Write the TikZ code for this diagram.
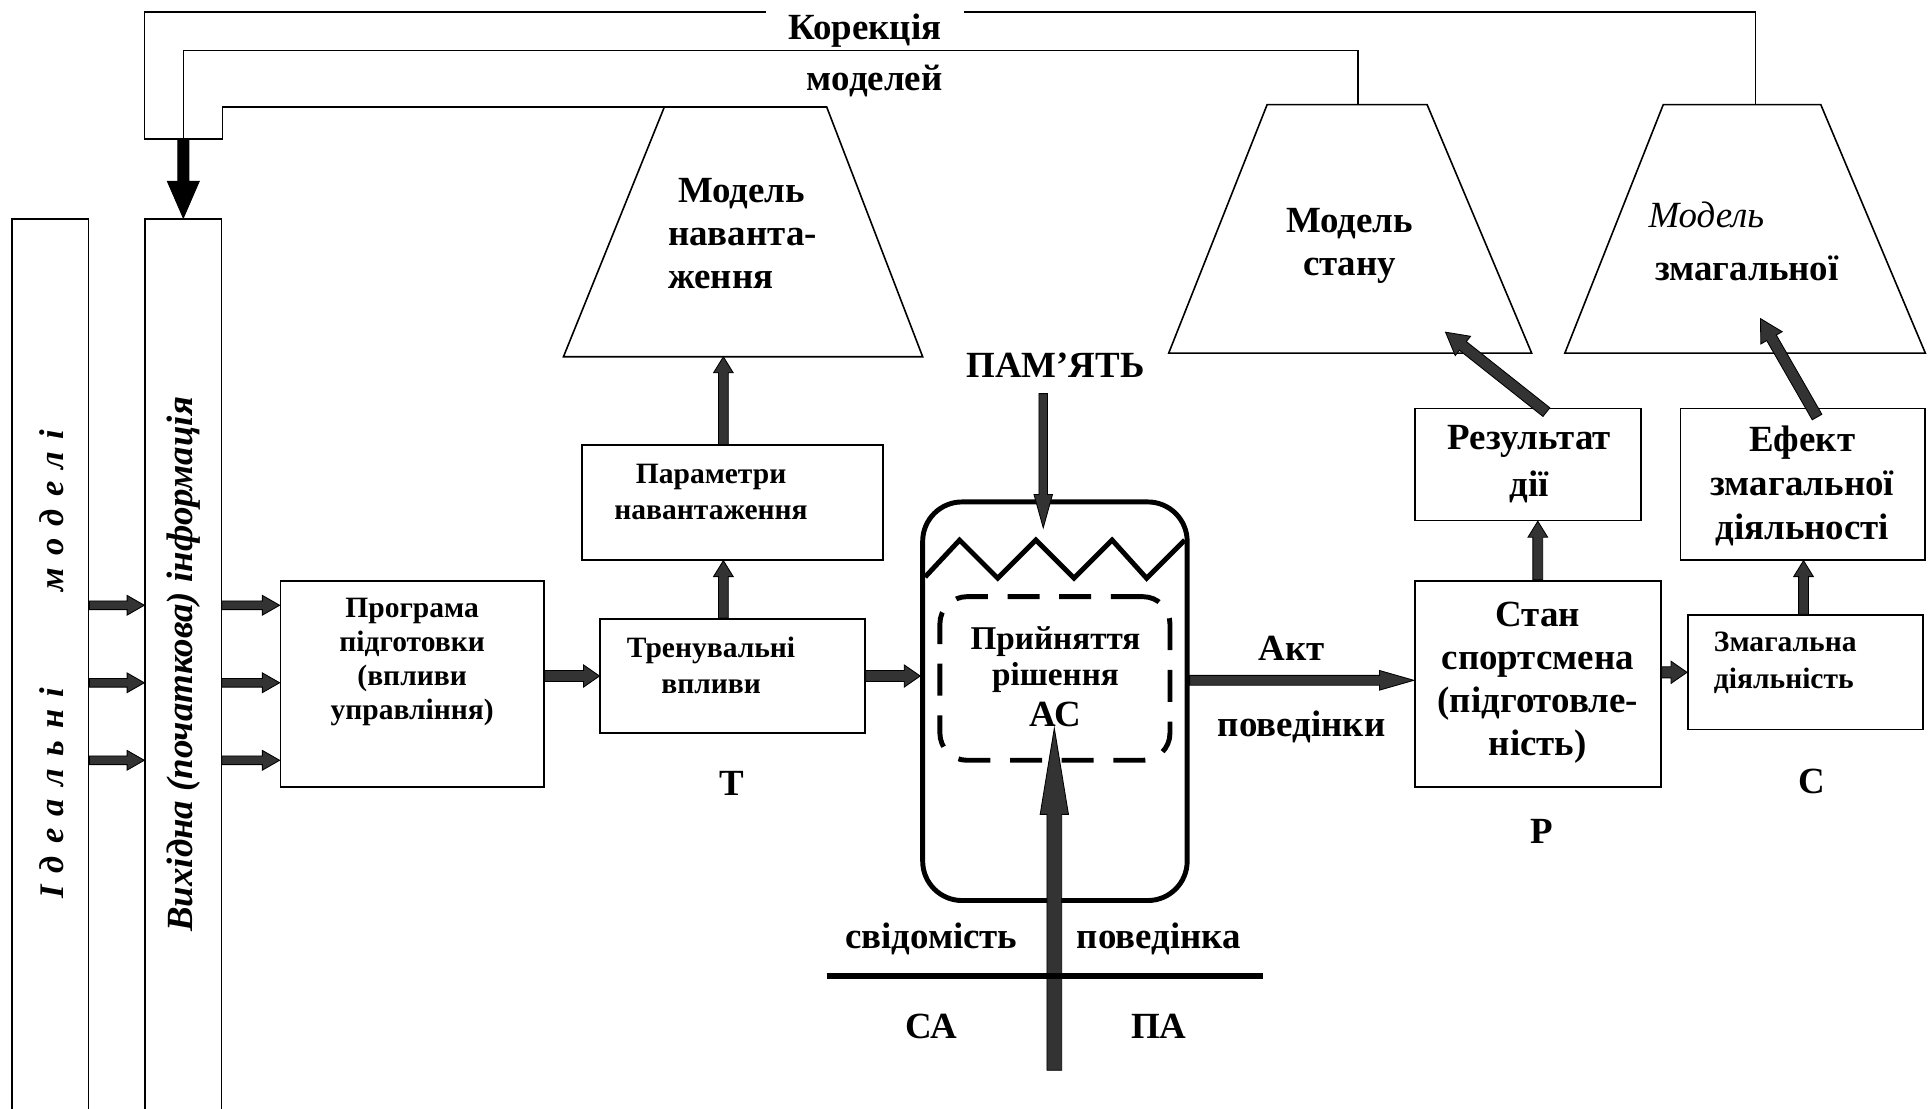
\documentclass[tikz,border=0pt]{standalone}
\usepackage{fontspec}
\setmainfont{Liberation Serif}
\usetikzlibrary{calc,arrows.meta}
\definecolor{arrgray}{HTML}{333333}
% block arrow: [fill]{start}{end}{half shaft}{half head}{head length}
\newcommand\blockarr[6][arrgray]{%
  \path (#2) coordinate (ba-s) (#3) coordinate (ba-e);
  \path ($(ba-e)!#6!(ba-s)$) coordinate (ba-b);
  \filldraw[fill=#1, draw=black, line width=0.7, line join=miter]
    ($(ba-s)!#4!90:(ba-b)$) -- ($(ba-b)!#4!-90:(ba-s)$) -- ($(ba-b)!#5!-90:(ba-s)$) -- (ba-e)
    -- ($(ba-b)!#5!90:(ba-s)$) -- ($(ba-b)!#4!90:(ba-s)$) -- ($(ba-s)!#4!-90:(ba-b)$) -- cycle;
}
\newcommand\lsp{\hspace{10pt}}
\begin{document}
\begin{tikzpicture}[x=1pt,y=-1pt,
  box/.style={draw, line width=1.4, inner sep=0, rectangle},
  trap/.style={draw, line width=1.3, line join=miter},
  fb/.style={line width=1.3},
  lbl/.style={font=\bfseries\fontsize{30}{35}\selectfont, align=center, inner sep=0},
  lblsm/.style={font=\bfseries\fontsize{24}{28}\selectfont, align=center, inner sep=0}]
\useasboundingbox[fill=white] (0,0) rectangle (1568,901);

% left tall boxes
\node[box, minimum width=62, minimum height=732] (idl) at (41,544) {};
\node[box, minimum width=62, minimum height=732] (inf) at (149,544) {};
\node[rotate=90, font=\bfseries\itshape\fontsize{28}{30}\selectfont, inner sep=0] (idlt) at (42,540)
  {І\lsp д\lsp е\lsp а\lsp л\lsp ь\lsp н\lsp і\hspace{78pt}м\lsp о\lsp д\lsp е\lsp л\lsp і};
\node[rotate=90, font=\bfseries\itshape\fontsize{30}{32}\selectfont, inner sep=0] (inft) at (149,540)
  {Вихідна (початкова) інформація};

% boxes
\node[box, minimum width=214, minimum height=168] (prog) at (335,556) {};
\node[box, minimum width=215, minimum height=93] (tren) at (595.5,549.5) {};
\node[box, minimum width=245, minimum height=93] (param) at (595.5,408.5) {};
\node[box, minimum width=200, minimum height=168] (stan) at (1250,556) {};
\node[box, minimum width=184, minimum height=91] (res) at (1242,377.5) {};
\node[box, minimum width=191, minimum height=93] (zmag) at (1467.5,546.5) {};
\node[box, minimum width=199, minimum height=123] (efekt) at (1465.5,393.5) {};

% trapezoids
\draw[trap] (458,290) coordinate (tr1bl) -- (540,87) coordinate (tr1tl) -- (672,87) coordinate (tr1tr) -- (750,290) coordinate (tr1br) -- cycle;
\draw[trap] (950,287) coordinate (tr2bl) -- (1030,85) coordinate (tr2tl) -- (1160,85) coordinate (tr2tr) -- (1245,287) coordinate (tr2br) -- cycle;
\draw[trap] (1272,287) coordinate (tr3bl) -- (1352,85) coordinate (tr3tl) -- (1480,85) coordinate (tr3tr) -- (1565,287) coordinate (tr3br) -- cycle;

% decision block
\node[draw, line width=4, rounded corners=32, minimum width=215, minimum height=324, inner sep=0] (rr) at (857.5,570) {};
\draw[line width=4, line join=miter] (752,469) -- (780,439) -- (811,470) -- (842,439) -- (873,470) -- (904,439) -- (932,470) -- (963,439);
\node[draw, line width=4, dash pattern=on 26 off 16, rounded corners=22, minimum width=187, minimum height=133, inner sep=0] (dr) at (857.5,551.5) {};

% texts
\node[lbl, inner xsep=18] (korek) at (703,25) {Корекція};
\node[lbl] (modl) at (711,66) {моделей};
\node[lblsm, font=\bfseries\fontsize{24}{27.7}\selectfont] (progt) at (335,538) {Програма\\підготовки\\(впливи\\управління)};
\node[lblsm, font=\bfseries\fontsize{24}{29}\selectfont] (trent) at (578,541) {Тренувальні\\впливи};
\node[lblsm, font=\bfseries\fontsize{24}{29}\selectfont] (paramt) at (578,400) {Параметри\\навантаження};
\node[lbl, align=left, anchor=west] (tr1t) at (543,190) {\hspace*{8pt}Модель\\наванта-\\ження};
\node[lbl] (pam) at (858,297) {ПАМ’ЯТЬ};
\node[lbl, font=\bfseries\fontsize{27}{29}\selectfont] (rrt) at (858,536) {Прийняття\\рішення};
\node[lbl] (act) at (858,581) {АС};
\node[lbl] (akt) at (1050,527) {Акт};
\node[lbl] (povd) at (1058,591) {поведінки};
\node[lbl] (svid) at (757,763) {свідомість};
\node[lbl] (poved) at (942,763) {поведінка};
\node[lbl] (sa) at (757,834) {СА};
\node[lbl] (pa) at (942,834) {ПА};
\node[lbl] (stant) at (1250,555) {Стан\\спортсмена\\(підготовле-\\ність)};
\node[lbl, font=\bfseries\fontsize{30}{38}\selectfont] (rest) at (1243,377) {Результат\\дії};
\node[lbl, font=\bfseries\fontsize{30}{35.5}\selectfont] (efektt) at (1465,395) {Ефект\\змагальної\\діяльності};
\node[lblsm, font=\bfseries\fontsize{24}{30}\selectfont, align=left, anchor=west] (zmagt) at (1393,539) {Змагальна\\діяльність};
\node[lbl] (tr2t) at (1097,200) {Модель\\стану};
\node[font=\itshape\fontsize{30}{35}\selectfont, inner sep=0] (tr3a) at (1387,175) {Модель};
\node[lbl] (tr3b) at (1420,218) {змагальної};
\node[lbl] (lt) at (595,637) {Т};
\node[lbl] (lp) at (1253,676) {Р};
\node[lbl] (lc) at (1473,635) {С};
\coordinate (pamarr) at (848,320);

% feedback lines
\draw[fb] (inf.north west |- 0,113) -- (inf.north west |- 0,10) -- (korek.west |- 0,10);
\draw[fb] (korek.east |- 0,10) -- (1427,10) -- (1427,0 |- tr3tl);
\draw[fb] (inf.north |- 0,113) -- (inf.north |- 0,41) -- (1104,41) -- (1104,0 |- tr2tl);
\draw[fb] (inf.north west |- 0,113) -- (inf.north east |- 0,113) -- (inf.north east |- tr1tl) -- (tr1tl);
\blockarr[black]{inf.north |- 0,113}{inf.north}{4.5pt}{13pt}{30pt}

% arrows left
\foreach \yy in {492,555,618}{
  \blockarr{idl.east |- 0,\yy}{inf.west |- 0,\yy}{3.5pt}{8pt}{14pt}
  \blockarr{inf.east |- 0,\yy}{prog.west |- 0,\yy}{3.5pt}{8pt}{14pt}
}
\blockarr{prog.east |- tren.west}{tren.west}{4.5pt}{9pt}{13pt}
\blockarr{tren.north -| 588,0}{param.south -| 588,0}{4pt}{8pt}{13pt}
\blockarr{param.north -| 588,0}{tr1bl -| 588,0}{4pt}{8pt}{13pt}
\blockarr{tren.east}{tren.east -| rr.west}{4.5pt}{9pt}{13pt}
\blockarr{pamarr}{pamarr |- 0,429}{3.5pt}{7.5pt}{27pt}
\blockarr{857,870}{857,592}{6pt}{11.5pt}{70pt}
\blockarr{rr.east |- 0,553}{stan.west |- 0,553}{4pt}{8pt}{28pt}
\blockarr{stan.north}{stan.north |- res.south}{4pt}{8pt}{13pt}
\blockarr{stan.east |- zmag.west}{zmag.west}{4.5pt}{9pt}{13pt}
\blockarr{zmag.north -| 1466,0}{efekt.south -| 1466,0}{4pt}{8pt}{13pt}
\blockarr{1257,335}{1175,270}{4.5pt}{10pt}{18pt}
\blockarr{1477,339}{1431,259}{4.5pt}{10pt}{18pt}

% cross line
\draw[line width=5] (672,793) -- (1027,793);
\end{tikzpicture}
\end{document}
